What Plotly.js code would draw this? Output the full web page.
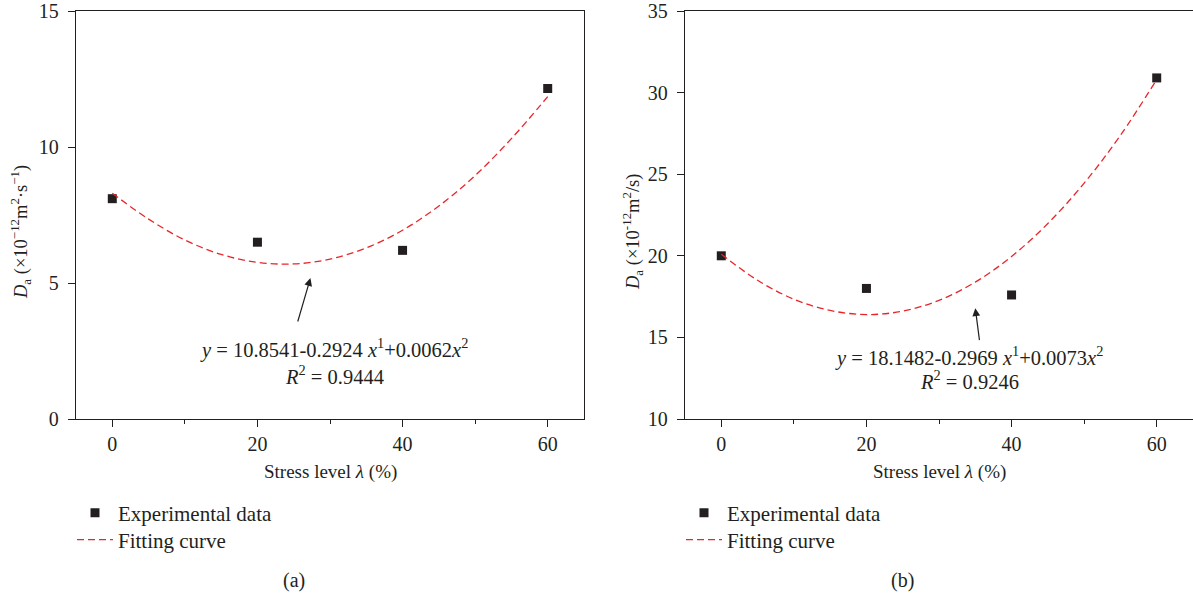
<!DOCTYPE html>
<html>
<head>
<meta charset="utf-8">
<script src="https://cdn.plot.ly/plotly-3.0.1.min.js"></script>
<style>html,body{margin:0;padding:0;background:#fff;}#chart{width:1193px;height:597px;}</style>
</head>
<body>
<div id="chart"></div>
<script>
// ---- data ----
const stress = [0, 20, 40, 60];
const daA = [8.1, 6.5, 6.2, 12.15];
const daB = [20.0, 18.0, 17.6, 30.9];
const fitX = [0, 5, 10, 15, 20, 25, 30, 35, 40, 45, 50, 55, 60];
const fitA = [8.3, 7.35, 6.58, 6.05, 5.76, 5.70, 5.88, 6.29, 6.94, 7.83, 8.95, 10.31, 11.85];
const fitB = [20.1, 18.5, 17.34, 16.65, 16.4, 16.61, 17.27, 18.39, 19.96, 21.98, 24.45, 27.38, 30.8];
const xTicks = [0, 20, 40, 60];
const yTicksA = [0, 5, 10, 15];
const yTicksB = [10, 15, 20, 25, 30, 35];
const eqA = ['<i>y</i> = 10.8541-0.2924 <i>x</i><sup>1</sup>+0.0062<i>x</i><sup>2</sup>', '<i>R</i><sup>2</sup> = 0.9444'];
const eqB = ['<i>y</i> = 18.1482-0.2969 <i>x</i><sup>1</sup>+0.0073<i>x</i><sup>2</sup>', '<i>R</i><sup>2</sup> = 0.9246'];
const yTitleA = '<i>D</i><sub>a</sub> (×10<sup>−12</sup>m<sup>2</sup>·s<sup>−1</sup>)';
const yTitleB = '<i>D</i><sub>a</sub> (×10<sup>-12</sup>m<sup>2</sup>/s)';
const xTitle = 'Stress level <i>λ</i> (%)';
const legendNames = ['Experimental data', 'Fitting curve'];

const FONT = 'Liberation Serif, Times New Roman, serif';
const INK = '#231f20';
const RED = '#e8262a';

const W = 1193, H = 597, T = 11, B = 178;
const PH = H - T - B;
const px2x = p => p / W;
const py2y = p => (H - B - p) / PH;

function mkX(domain, anchor) {
  return {
    domain: domain, anchor: anchor, range: [-5, 65],
    tickvals: xTicks, ticktext: xTicks.map(String),
    ticks: 'outside', ticklen: 7, tickwidth: 1, tickcolor: INK,
    minor: {tickvals: [10, 30, 50], ticks: 'outside', ticklen: 4, tickwidth: 1, tickcolor: INK},
    showline: true, linecolor: INK, linewidth: 1.2, mirror: true,
    showgrid: false, zeroline: false, ticklabelstandoff: 0,
    tickfont: {family: FONT, size: 20, color: INK}, fixedrange: true
  };
}
function mkY(domain, anchor, range, vals) {
  return {
    domain: domain, anchor: anchor, range: range,
    tickvals: vals, ticktext: vals.map(String),
    ticks: 'outside', ticklen: 7, tickwidth: 1, tickcolor: INK,
    showline: true, linecolor: INK, linewidth: 1.2, mirror: true,
    showgrid: false, zeroline: false, ticklabelstandoff: 5,
    tickfont: {family: FONT, size: 20, color: INK}, fixedrange: true
  };
}

const mk = {symbol: 'square', size: 9, color: INK};
const ln = {color: RED, width: 1.3, dash: '7px,4px', shape: 'spline'};
const traces = [
  {x: stress, y: daA, type: 'scatter', mode: 'markers', name: legendNames[0],
   marker: mk, xaxis: 'x', yaxis: 'y', legend: 'legend'},
  {x: fitX, y: fitA, type: 'scatter', mode: 'lines', name: legendNames[1],
   line: ln, xaxis: 'x', yaxis: 'y', legend: 'legend2'},
  {x: stress, y: daB, type: 'scatter', mode: 'markers', name: legendNames[0],
   marker: mk, xaxis: 'x2', yaxis: 'y2', legend: 'legend3'},
  {x: fitX, y: fitB, type: 'scatter', mode: 'lines', name: legendNames[1],
   line: ln, xaxis: 'x2', yaxis: 'y2', legend: 'legend4'}
];

const eqFont = {family: FONT, size: 20.5, color: INK};
const titleFont = {family: FONT, size: 19, color: INK};
const yTitleFont = {family: FONT, size: 18.5, color: INK};
const capFont = {family: FONT, size: 20, color: INK};
function pAnn(x, y, text, font, extra) {
  return Object.assign({xref: 'paper', yref: 'paper', x: px2x(x), y: py2y(y), text: text,
    showarrow: false, font: font, xanchor: 'center', yanchor: 'middle'}, extra || {});
}
const annotations = [
  // equations
  {xref: 'x', yref: 'y', x: 30.6, y: 2.61, text: eqA[0], showarrow: false, font: eqFont, xanchor: 'center', yanchor: 'middle'},
  {xref: 'x', yref: 'y', x: 30.6, y: 1.62, text: eqA[1], showarrow: false, font: eqFont, xanchor: 'center', yanchor: 'middle'},
  {xref: 'x2', yref: 'y2', x: 34.2, y: 13.8, text: eqB[0], showarrow: false, font: eqFont, xanchor: 'center', yanchor: 'middle'},
  {xref: 'x2', yref: 'y2', x: 34.2, y: 12.39, text: eqB[1], showarrow: false, font: eqFont, xanchor: 'center', yanchor: 'middle'},
  // arrows
  {xref: 'x', yref: 'y', axref: 'x', ayref: 'y', x: 27.3, y: 5.18, ax: 25.5, ay: 3.53, text: '',
   showarrow: true, arrowhead: 2, arrowsize: 1.3, arrowwidth: 1.2, arrowcolor: INK},
  {xref: 'x2', yref: 'y2', axref: 'x2', ayref: 'y2', x: 35.0, y: 16.79, ax: 35.6, ay: 14.74, text: '',
   showarrow: true, arrowhead: 2, arrowsize: 1.3, arrowwidth: 1.2, arrowcolor: INK},
  // y titles
  pAnn(20, 232, yTitleA, yTitleFont, {textangle: -90}),
  pAnn(632, 232, yTitleB, yTitleFont, {textangle: -90}),
  // x titles
  pAnn(330, 472, xTitle, titleFont),
  pAnn(939, 472, xTitle, titleFont),
  // captions
  pAnn(294, 580, '(a)', capFont),
  pAnn(902, 580, '(b)', capFont)
];

const legFont = {family: FONT, size: 21, color: INK};
function leg(xp, yp) {
  return {x: px2x(xp), y: py2y(yp), xanchor: 'left', yanchor: 'middle', font: legFont,
          itemwidth: 36, bgcolor: 'rgba(0,0,0,0)', borderwidth: 0};
}
const layout = {
  width: W, height: H,
  margin: {l: 0, r: 0, t: T, b: B},
  paper_bgcolor: '#fff', plot_bgcolor: '#fff',
  showlegend: true,
  xaxis: mkX([px2x(76), px2x(584)], 'y'),
  yaxis: mkY([0, 1], 'x', [0, 15], yTicksA),
  xaxis2: mkX([px2x(685), 1], 'y2'),
  yaxis2: mkY([0, 1], 'x2', [10, 35], yTicksB),
  legend: leg(72, 513),
  legend2: leg(72, 540),
  legend3: leg(681, 513),
  legend4: leg(681, 540),
  annotations: annotations
};

Plotly.newPlot('chart', traces, layout, {displayModeBar: false, staticPlot: true});
</script>
</body>
</html>
